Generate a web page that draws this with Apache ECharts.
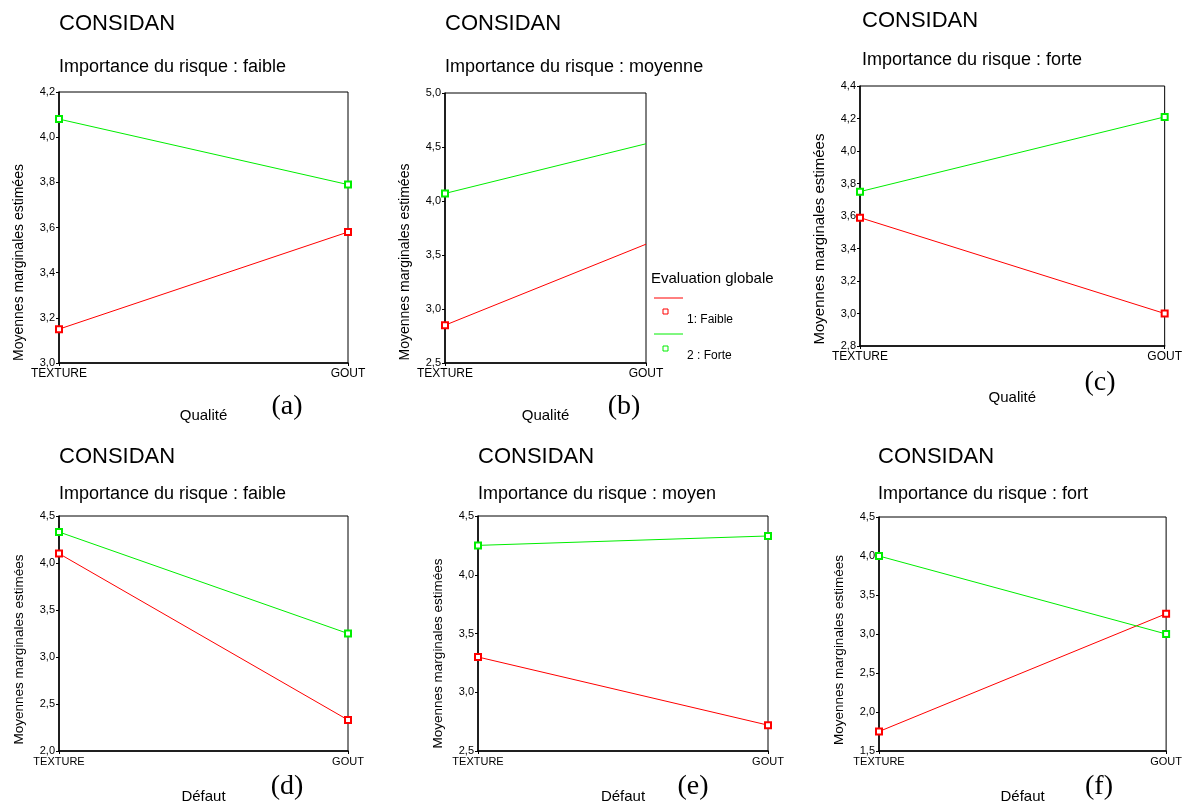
<!DOCTYPE html>
<html>
<head>
<meta charset="utf-8">
<script src="https://cdn.jsdelivr.net/npm/echarts@6/dist/echarts.min.js"></script>
<style>
  html, body { margin: 0; padding: 0; background: #fff; }
  #chart { width: 1185px; height: 805px; }
</style>
</head>
<body>
<div id="chart"></div>
<script>
// -------------------- données --------------------
const categories = ['TEXTURE', 'GOUT']

// 1: Faible (rouge) / 2 : Forte (vert), un couple par panneau
const redA = [3.15, 3.58]
const greenA = [4.08, 3.79]
const redB = [2.85, 3.60]
const greenB = [4.07, 4.53]
const redC = [3.59, 3.00]
const greenC = [3.75, 4.21]
const redD = [4.10, 2.33]
const greenD = [4.33, 3.25]
const redE = [3.30, 2.72]
const greenE = [4.25, 4.33]
const redF = [1.75, 3.26]
const greenF = [4.00, 3.00]

const yMin = [3.0, 2.5, 2.8, 2.0, 2.5, 1.5]
const yMax = [4.2, 5.0, 4.4, 4.5, 4.5, 4.5]
const yStep = [0.2, 0.5, 0.2, 0.5, 0.5, 0.5]

const subtitles = [
  'Importance du risque : faible',
  'Importance du risque : moyenne',
  'Importance du risque : forte',
  'Importance du risque : faible',
  'Importance du risque : moyen',
  'Importance du risque : fort'
]
const xNames = ['Qualité', 'Qualité', 'Qualité', 'Défaut', 'Défaut', 'Défaut']
const letters = ['(a)', '(b)', '(c)', '(d)', '(e)', '(f)']
const seriesNames = ['1: Faible', '2 : Forte']

const reds = [redA, redB, redC, redD, redE, redF]
const greens = [greenA, greenB, greenC, greenD, greenE, greenF]
// le panneau (b) n'a pas de marqueur sur GOUT
const lastMarker = [true, false, true, true, true, true]

// -------------------- mise en page --------------------
const FONT = '"Liberation Sans", Arial, sans-serif'
const RED = '#ff0000'
const GREEN = '#00ee00'

const grids = [
  { left: 59, top: 92, width: 289, height: 271 },
  { left: 445, top: 93, width: 201, height: 270 },
  { left: 860, top: 86, width: 307, height: 260 },
  { left: 59, top: 516, width: 289, height: 236 },
  { left: 478, top: 516, width: 290, height: 236 },
  { left: 879, top: 517, width: 289, height: 235 }
]
const headPos = [
  [59, 13, 58], [445, 13, 58], [862, 10, 51],
  [59, 446, 485], [478, 446, 485], [878, 446, 485]
]
const letterPos = [[287, 407], [624, 407], [1100, 383], [287, 787], [693, 787], [1099, 787]]
const xNameGap = [45, 45, 44, 38, 38, 38]
const yNamePad = [70, 68, 46, 32, 40, 32]
const yNameSize = [14, 14, 15, 13.5, 13.5, 13.5]
const catSize = [12, 12, 12, 11, 11, 11]

const title = []
grids.forEach((g, i) => {
  title.push({
    text: 'CONSIDAN', left: headPos[i][0], top: headPos[i][1], padding: 0,
    textStyle: { fontFamily: FONT, fontSize: 22, fontWeight: 'normal', color: '#000' }
  })
  title.push({
    text: subtitles[i], left: headPos[i][0], top: headPos[i][2], padding: 0,
    textStyle: { fontFamily: FONT, fontSize: 18, fontWeight: 'normal', color: '#000' }
  })
})

const graphic = letters.map((t, i) => ({
  type: 'text',
  x: letterPos[i][0], y: letterPos[i][1],
  style: {
    text: t, fill: '#000', align: 'center', verticalAlign: 'middle',
    font: '28px "Liberation Serif", "Times New Roman", serif'
  }
}))

// légende "Evaluation globale" à droite du panneau (b)
graphic.push(
  { type: 'text', x: 651, y: 279, style: { text: 'Evaluation globale', fill: '#000', verticalAlign: 'middle', font: '15px ' + FONT } },
  { type: 'line', shape: { x1: 654, y1: 298, x2: 683, y2: 298 }, style: { stroke: RED, lineWidth: 1 } },
  { type: 'rect', shape: { x: 663, y: 309, width: 5, height: 5 }, style: { stroke: RED, fill: '#fff', lineWidth: 1 } },
  { type: 'text', x: 687, y: 320, style: { text: seriesNames[0], fill: '#000', verticalAlign: 'middle', font: '12px ' + FONT } },
  { type: 'line', shape: { x1: 654, y1: 334, x2: 683, y2: 334 }, style: { stroke: GREEN, lineWidth: 1 } },
  { type: 'rect', shape: { x: 663, y: 346, width: 5, height: 5 }, style: { stroke: GREEN, fill: '#fff', lineWidth: 1 } },
  { type: 'text', x: 687, y: 356, style: { text: seriesNames[1], fill: '#000', verticalAlign: 'middle', font: '12px ' + FONT } }
)

const comma = v => v.toFixed(1).replace('.', ',')

const xAxis = grids.map((g, i) => ({
  gridIndex: i,
  type: 'category',
  data: categories,
  boundaryGap: false,
  axisLine: { lineStyle: { color: '#000', width: 1.5 } },
  axisTick: { show: true, length: 3, lineStyle: { color: '#000' } },
  axisLabel: { color: '#000', fontFamily: FONT, fontSize: catSize[i], margin: 5 },
  splitLine: { show: false },
  name: xNames[i],
  nameLocation: 'middle',
  nameGap: xNameGap[i],
  nameTextStyle: { color: '#000', fontFamily: FONT, fontSize: 15 }
}))

const yAxis = grids.map((g, i) => ({
  gridIndex: i,
  type: 'value',
  min: yMin[i],
  max: yMax[i],
  interval: yStep[i],
  axisLine: { show: true, lineStyle: { color: '#000', width: 1.5 } },
  axisTick: { show: true, length: 3, lineStyle: { color: '#000' } },
  axisLabel: { color: '#000', fontFamily: FONT, fontSize: 11, margin: 4, formatter: comma },
  splitLine: { show: false },
  name: 'Moyennes marginales estimées',
  nameLocation: 'middle',
  nameGap: 33,
  nameTextStyle: {
    color: '#000', fontFamily: FONT, fontSize: yNameSize[i],
    padding: [0, yNamePad[i], 0, 0]
  }
}))

const makeData = (vals, i) => vals.map((v, k) =>
  (k === vals.length - 1 && !lastMarker[i]) ? { value: v, symbol: 'none' } : v)

const series = []
grids.forEach((g, i) => {
  series.push({
    name: seriesNames[0], type: 'line', xAxisIndex: i, yAxisIndex: i,
    data: makeData(reds[i], i),
    symbol: 'emptyRect', symbolSize: 6,
    lineStyle: { color: RED, width: 1 },
    itemStyle: { color: RED, borderColor: RED, borderWidth: 1 }
  })
  series.push({
    name: seriesNames[1], type: 'line', xAxisIndex: i, yAxisIndex: i,
    data: makeData(greens[i], i),
    symbol: 'emptyRect', symbolSize: 6,
    lineStyle: { color: GREEN, width: 1 },
    itemStyle: { color: GREEN, borderColor: GREEN, borderWidth: 1 }
  })
})

const chart = echarts.init(document.getElementById('chart'))
chart.setOption({
  animation: false,
  backgroundColor: '#fff',
  title,
  grid: grids.map(g => ({ ...g, show: true, borderColor: '#000', borderWidth: 1 })),
  xAxis,
  yAxis,
  series,
  graphic
})
</script>
</body>
</html>
